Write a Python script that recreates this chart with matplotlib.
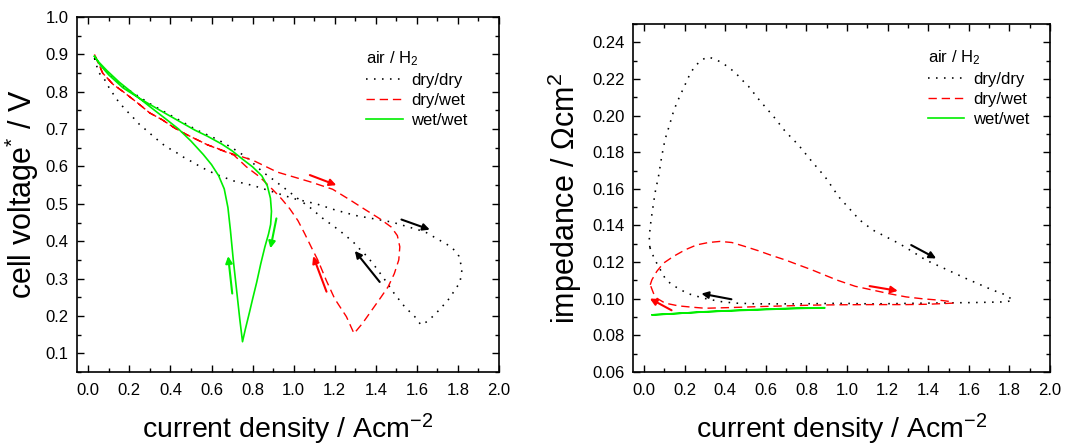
import matplotlib
matplotlib.use("Agg")
import matplotlib.pyplot as plt
from matplotlib.ticker import MultipleLocator, FormatStrFormatter

plt.rcParams["font.family"] = ["Liberation Sans", "DejaVu Sans"]
plt.rcParams["mathtext.fontset"] = "custom"
plt.rcParams["mathtext.rm"] = "Liberation Sans"
plt.rcParams["mathtext.it"] = "Liberation Sans:italic"
plt.rcParams["mathtext.bf"] = "Liberation Sans:bold"

# ---------------- polarisation curves (cell voltage vs current density) ----------------
# dry/dry : forward sweep then backward sweep
dd_v_fwd_j = [0.03, 0.05, 0.08, 0.10, 0.125, 0.15, 0.185, 0.22, 0.25, 0.285, 0.32, 0.38,
              0.42, 0.45, 0.48, 0.51, 0.55, 0.61, 0.65, 0.71, 0.78, 0.82, 0.90, 1.00,
              1.11, 1.20, 1.30, 1.40, 1.48, 1.56, 1.64, 1.70, 1.77, 1.805, 1.82, 1.81,
              1.78, 1.75, 1.72, 1.69, 1.65, 1.62]
dd_v_fwd_u = [0.89, 0.852, 0.832, 0.812, 0.791, 0.771, 0.750, 0.730, 0.712, 0.696, 0.679, 0.652,
              0.641, 0.629, 0.620, 0.611, 0.598, 0.582, 0.573, 0.561, 0.552, 0.546, 0.532, 0.514,
              0.500, 0.484, 0.469, 0.459, 0.451, 0.438, 0.425, 0.406, 0.384, 0.36, 0.325, 0.29,
              0.265, 0.241, 0.223, 0.205, 0.185, 0.176]
dd_v_bwd_j = [1.62, 1.59, 1.54, 1.49, 1.44, 1.40, 1.36, 1.32, 1.29, 1.22, 1.14, 1.08, 1.03,
              0.96, 0.90, 0.85, 0.77, 0.70, 0.63, 0.53, 0.43, 0.30, 0.17, 0.10, 0.06, 0.03]
dd_v_bwd_u = [0.176, 0.198, 0.225, 0.26, 0.30, 0.33, 0.358, 0.38, 0.398, 0.43, 0.462, 0.49, 0.51,
              0.54, 0.565, 0.585, 0.625, 0.65, 0.672, 0.697, 0.728, 0.768, 0.814, 0.847, 0.872, 0.89]

# dry/wet
dw_v_fwd_j = [0.03, 0.07, 0.12, 0.17, 0.24, 0.30, 0.36, 0.42, 0.48, 0.58, 0.69, 0.80, 0.92,
              1.08, 1.19, 1.27, 1.35, 1.42, 1.475, 1.505, 1.517, 1.512, 1.49, 1.46, 1.425,
              1.38, 1.335, 1.294]
dw_v_fwd_u = [0.90, 0.85, 0.82, 0.80, 0.77, 0.743, 0.725, 0.703, 0.685, 0.658, 0.636, 0.617, 0.585,
              0.559, 0.539, 0.512, 0.484, 0.46, 0.438, 0.415, 0.385, 0.35, 0.313, 0.278, 0.25,
              0.215, 0.18, 0.153]
dw_v_bwd_j = [1.294, 1.257, 1.20, 1.159, 1.119, 1.086, 1.054, 1.021, 0.981, 0.94, 0.90, 0.835,
              0.77, 0.71, 0.58, 0.48, 0.42, 0.36, 0.30, 0.24, 0.17, 0.12, 0.07, 0.03]
dw_v_bwd_u = [0.153, 0.198, 0.246, 0.295, 0.348, 0.384, 0.42, 0.455, 0.487, 0.514, 0.537, 0.572,
              0.599, 0.63, 0.658, 0.685, 0.703, 0.725, 0.743, 0.77, 0.80, 0.82, 0.85, 0.90]

# wet/wet
ww_v_fwd_j = [0.03, 0.06, 0.10, 0.17, 0.25, 0.35, 0.43, 0.52, 0.58, 0.65, 0.70, 0.75, 0.80,
              0.845, 0.872, 0.887, 0.892, 0.888, 0.878, 0.86, 0.84, 0.82, 0.80, 0.785, 0.765, 0.751]
ww_v_fwd_u = [0.895, 0.87, 0.845, 0.81, 0.782, 0.75, 0.725, 0.697, 0.681, 0.66, 0.642, 0.62, 0.599,
              0.575, 0.548, 0.515, 0.48, 0.445, 0.42, 0.385, 0.34, 0.29, 0.245, 0.21, 0.165, 0.131]
ww_v_bwd_j = [0.751, 0.738, 0.722, 0.706, 0.692, 0.680, 0.662, 0.635, 0.60, 0.56, 0.50, 0.44,
              0.38, 0.30, 0.22, 0.15, 0.09, 0.05, 0.03]
ww_v_bwd_u = [0.131, 0.19, 0.27, 0.35, 0.43, 0.49, 0.54, 0.575, 0.605, 0.632, 0.668, 0.70,
              0.726, 0.76, 0.795, 0.826, 0.857, 0.88, 0.895]

# ---------------- impedance vs current density ----------------
dd_z_fwd_j = [0.028, 0.025, 0.034, 0.054, 0.071, 0.087, 0.103, 0.117, 0.144, 0.161, 0.194, 0.227,
              0.251, 0.284, 0.317, 0.342, 0.383, 0.448, 0.481, 0.514, 0.571, 0.637, 0.695, 0.760,
              0.826, 0.892, 0.96, 1.062, 1.127, 1.259, 1.324, 1.390, 1.456, 1.587, 1.718,
              1.784, 1.817]
dd_z_fwd_r = [0.128, 0.134, 0.143, 0.158, 0.167, 0.178, 0.187, 0.192, 0.202, 0.207, 0.215, 0.223,
              0.227, 0.2305, 0.232, 0.231, 0.229, 0.2236, 0.2196, 0.216, 0.208, 0.1996, 0.1914, 0.184,
              0.175, 0.1665, 0.1555, 0.143, 0.1375, 0.130, 0.1256, 0.121, 0.1177, 0.111, 0.1047,
              0.102, 0.0992]
dd_z_bwd_j = [1.817, 1.784, 1.62, 1.456, 1.127, 0.957, 0.760, 0.563, 0.448, 0.374, 0.292, 0.210,
              0.177, 0.136, 0.103, 0.062, 0.046, 0.028]
dd_z_bwd_r = [0.0992, 0.0983, 0.0979, 0.0977, 0.0972, 0.0975, 0.0972, 0.0972, 0.0976, 0.0985,
              0.1003, 0.103, 0.1052, 0.1076, 0.1112, 0.1194, 0.123, 0.128]

dw_z_fwd_j = [0.030, 0.038, 0.062, 0.095, 0.144, 0.202, 0.259, 0.317, 0.374, 0.432, 0.498, 0.563,
              0.629, 0.695, 0.760, 0.826, 0.892, 0.955, 1.04, 1.127, 1.21, 1.291, 1.37, 1.456, 1.521]
dw_z_fwd_r = [0.1076, 0.1103, 0.1149, 0.1194, 0.1231, 0.1267, 0.1294, 0.1307, 0.1313, 0.1307,
              0.1285, 0.1262, 0.1236, 0.1212, 0.1185, 0.1158, 0.1128, 0.1100, 0.1068, 0.1047,
              0.1027, 0.1010, 0.1000, 0.0992, 0.0983]
dw_z_bwd_j = [1.521, 1.40, 1.291, 1.127, 0.957, 0.826, 0.695, 0.563, 0.432, 0.300, 0.235, 0.169,
              0.103, 0.062, 0.046, 0.030]
dw_z_bwd_r = [0.0976, 0.0970, 0.0968, 0.0968, 0.0967, 0.0965, 0.0961, 0.0957, 0.0952, 0.0948,
              0.0954, 0.0961, 0.0976, 0.1003, 0.1030, 0.1076]

ww_z_fwd_j = [0.04, 0.10, 0.20, 0.30, 0.40, 0.50, 0.60, 0.70, 0.80, 0.89]
ww_z_fwd_r = [0.0912, 0.0915, 0.0922, 0.0929, 0.0934, 0.0939, 0.0943, 0.0947, 0.0950, 0.0951]
ww_z_bwd_j = [0.89, 0.80, 0.70, 0.60, 0.50, 0.40, 0.30, 0.20, 0.10, 0.04]
ww_z_bwd_r = [0.0949, 0.0948, 0.0945, 0.0941, 0.0937, 0.0933, 0.0928, 0.0922, 0.0916, 0.0912]

# sweep-direction arrows: (j_start, y_start, j_end, y_end, colour)
v_arrows = [
    (1.079, 0.577, 1.208, 0.550, "#ff0000"),
    (1.525, 0.458, 1.663, 0.431, "black"),
    (1.419, 0.291, 1.298, 0.374, "black"),
    (1.160, 0.265, 1.095, 0.360, "#ff0000"),
    (0.916, 0.461, 0.887, 0.381, "#00ee00"),
    (0.701, 0.260, 0.681, 0.360, "#00ee00"),
]
z_arrows = [
    (1.316, 0.1293, 1.439, 0.1220, "black"),
    (0.430, 0.0997, 0.282, 0.1028, "black"),
    (1.111, 0.1069, 1.250, 0.1043, "#ff0000"),
    (0.135, 0.0937, 0.028, 0.1001, "#ff0000"),
]

labels = ["dry/dry", "dry/wet", "wet/wet"]
styles = [
    dict(color="black", lw=1.15, linestyle=(0, (1, 4))),
    dict(color="#ff0000", lw=1.0, linestyle=(0, (6, 3.5))),
    dict(color="#00ee00", lw=1.2, linestyle="-"),
]

fig = plt.figure(figsize=(10.76, 4.47), dpi=100)
ax1 = fig.add_axes([77 / 1076, 75 / 447, 422 / 1076, 355 / 447])
ax2 = fig.add_axes([633 / 1076, 75 / 447, 417 / 1076, 348 / 447])

v_series = [(dd_v_fwd_j, dd_v_fwd_u, dd_v_bwd_j, dd_v_bwd_u),
            (dw_v_fwd_j, dw_v_fwd_u, dw_v_bwd_j, dw_v_bwd_u),
            (ww_v_fwd_j, ww_v_fwd_u, ww_v_bwd_j, ww_v_bwd_u)]
z_series = [(dd_z_fwd_j, dd_z_fwd_r, dd_z_bwd_j, dd_z_bwd_r),
            (dw_z_fwd_j, dw_z_fwd_r, dw_z_bwd_j, dw_z_bwd_r),
            (ww_z_fwd_j, ww_z_fwd_r, ww_z_bwd_j, ww_z_bwd_r)]

for ax, series, arrows in ((ax1, v_series, v_arrows), (ax2, z_series, z_arrows)):
    for (fj, fy, bj, by), lab, st in zip(series, labels, styles):
        ax.plot(fj + bj, fy + by, label=lab, **st)
    for x0, y0, x1, y1, c in arrows:
        ax.annotate("", xy=(x1, y1), xytext=(x0, y0),
                    arrowprops=dict(arrowstyle="-|>", color=c, lw=1.5,
                                    mutation_scale=10, shrinkA=0, shrinkB=0))

# axes styling
for ax in (ax1, ax2):
    ax.set_xlim(-0.055, 2.0)
    ax.xaxis.set_major_locator(MultipleLocator(0.2))
    ax.xaxis.set_minor_locator(MultipleLocator(0.1))
    ax.xaxis.set_major_formatter(FormatStrFormatter("%.1f"))
    ax.tick_params(which="both", direction="in", top=True, right=True, labelsize=12,
                   width=1.0)
    ax.tick_params(axis="x", which="both", pad=8)
    ax.tick_params(axis="y", which="both", pad=6)
    ax.tick_params(which="major", length=5)
    ax.tick_params(which="minor", length=3)
    for sp in ax.spines.values():
        sp.set_linewidth(1.2)
    ax.set_xlabel("current density / Acm$^{-2}$", fontsize=20.5)

ax1.set_ylim(0.05, 1.0)
ax1.yaxis.set_major_locator(MultipleLocator(0.1))
ax1.yaxis.set_minor_locator(MultipleLocator(0.05))
ax1.yaxis.set_major_formatter(FormatStrFormatter("%.1f"))
ax1.set_ylabel("cell voltage$^{*}$ / V", fontsize=22)

ax2.set_ylim(0.06, 0.25)
ax2.yaxis.set_major_locator(MultipleLocator(0.02))
ax2.yaxis.set_minor_locator(MultipleLocator(0.01))
ax2.yaxis.set_major_formatter(FormatStrFormatter("%.2f"))
ax2.set_ylabel("impedance / Ωcm$^{2}$", fontsize=22)

# label placement (axes fractions)
ax1.xaxis.set_label_coords(0.5, -0.112)
ax2.xaxis.set_label_coords(0.5, -0.115)
ax1.yaxis.set_label_coords(-0.086, 0.5)
ax2.yaxis.set_label_coords(-0.118, 0.5)

for ax, anchor in ((ax1, (0.685, 0.91)), (ax2, (0.707, 0.93))):
    leg = ax.legend(title="air / H$_2$", loc="upper left", bbox_to_anchor=anchor,
                    frameon=False, fontsize=12, title_fontsize=12, handlelength=2.2,
                    handletextpad=0.5, labelspacing=0.3, borderpad=0, borderaxespad=0,
                    alignment="left")

fig.savefig("out.png", dpi=100)
